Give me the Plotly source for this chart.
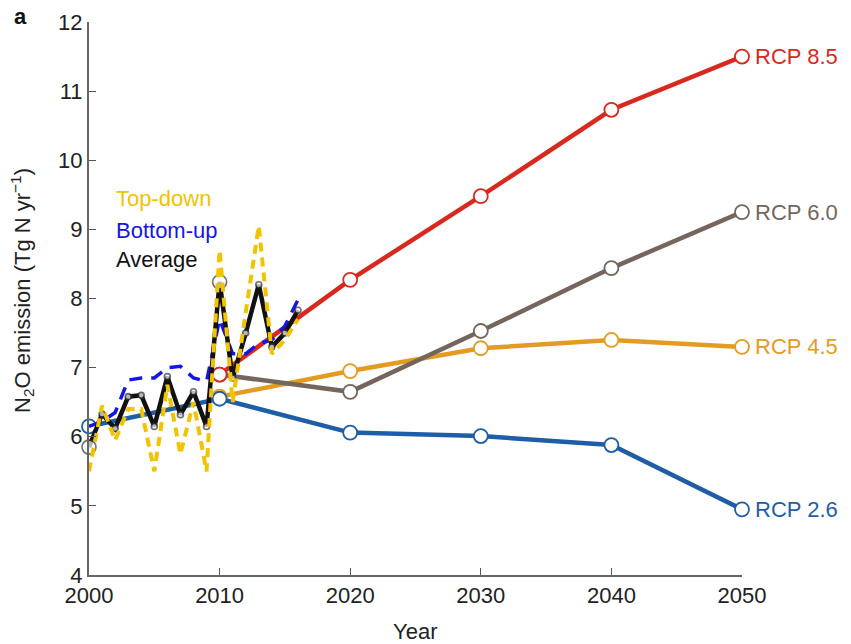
import plotly.graph_objects as go

hist_years = list(range(2000, 2017))
top_down = [5.5, 6.45, 5.95, 6.4, 6.4, 5.5, 6.75, 5.75, 6.5, 5.5, 8.7, 6.5, 7.8, 9.05, 7.2, 7.4, 7.7]
bottom_up = [6.15, 6.22, 6.35, 6.82, 6.85, 6.85, 7.0, 7.02, 6.85, 6.8, 7.7, 7.2, 7.2, 7.35, 7.4, 7.6, 7.98]
average = [5.85, 6.33, 6.12, 6.58, 6.6, 6.15, 6.87, 6.32, 6.65, 6.15, 8.24, 6.85, 7.5, 8.2, 7.3, 7.5, 7.83]

rcp_years = [2010, 2020, 2030, 2040, 2050]
rcp85 = [6.9, 8.27, 9.48, 10.73, 11.5]
rcp60 = [6.9, 6.65, 7.53, 8.44, 9.25]
rcp45 = [6.58, 6.95, 7.28, 7.4, 7.3]
rcp26_years = [2000, 2010, 2020, 2030, 2040, 2050]
rcp26 = [6.15, 6.55, 6.06, 6.01, 5.88, 4.95]

x_ticks = [2000, 2010, 2020, 2030, 2040, 2050]
y_ticks = [4, 5, 6, 7, 8, 9, 10, 11, 12]

c85 = "#D8291F"
c60 = "#74665C"
c45 = "#E49B22"
c26 = "#1E5EA8"
c_td = "#F2C300"
c_bu = "#1515E6"

FONT = "Liberation Sans, Arial, Helvetica, sans-serif"
fig = go.Figure()

def rcp(xs, ys, color, name):
    fig.add_trace(go.Scatter(
        x=xs, y=ys, mode="lines+markers", name=name,
        line=dict(color=color, width=4.5),
        marker=dict(size=14, color="white", line=dict(color=color, width=1.8)),
        cliponaxis=False, showlegend=False))

rcp(rcp_years, rcp45, c45, "RCP 4.5")
rcp(rcp_years, rcp60, c60, "RCP 6.0")
rcp(rcp26_years, rcp26, c26, "RCP 2.6")
rcp(rcp_years, rcp85, c85, "RCP 8.5")

fig.add_trace(go.Scatter(
    x=hist_years, y=bottom_up, mode="lines", line=dict(color=c_bu, width=3.5, dash="13px,9px"),
    showlegend=False, cliponaxis=False))

avg_sizes = [14 if y in (2000, 2010) else 6 for y in hist_years]
fig.add_trace(go.Scatter(
    x=hist_years, y=average, mode="lines+markers", line=dict(color="#111111", width=4.5),
    marker=dict(size=avg_sizes, color="white", line=dict(color="#333333", width=1.6)),
    showlegend=False, cliponaxis=False))

fig.add_trace(go.Scatter(
    x=hist_years, y=top_down, mode="lines", line=dict(color=c_td, width=4, dash="9px,6px"),
    showlegend=False, cliponaxis=False))

labels = [("RCP 8.5", rcp85[-1], c85), ("RCP 6.0", rcp60[-1], c60),
          ("RCP 4.5", rcp45[-1], c45), ("RCP 2.6", rcp26[-1], c26)]
for text, yv, col in labels:
    fig.add_annotation(x=2050, y=yv, text=text, showarrow=False, xanchor="left",
                       xshift=11, font=dict(size=22, color=col, family=FONT))

for text, yv, col in [("Top-down", 9.45, c_td), ("Bottom-up", 8.99, c_bu), ("Average", 8.56, "#111111")]:
    fig.add_annotation(x=0.038, y=yv, xref="paper", yref="y", text=text,
                       showarrow=False, xanchor="left", font=dict(size=22, color=col, family=FONT))

fig.add_annotation(x=-0.118, y=1.01, xref="paper", yref="paper", text="<b>a</b>",
                   showarrow=False, xanchor="left", yanchor="middle", font=dict(size=22, color="#111", family=FONT))

fig.add_annotation(x=-0.103, y=0.515, xref="paper", yref="paper", textangle=-90,
                   text="N<sub>2</sub>O emission (Tg N yr<sup>−1</sup>)", showarrow=False,
                   xanchor="center", yanchor="middle", font=dict(size=22, color="#222", family=FONT))
fig.add_annotation(x=0.499, y=-0.103, xref="paper", yref="paper", text="Year", showarrow=False,
                   xanchor="center", yanchor="middle", font=dict(size=22, color="#222", family=FONT))

fig.update_layout(
    width=851, height=644,
    margin=dict(l=81, r=117, t=14, b=77),
    paper_bgcolor="white", plot_bgcolor="white",
    font=dict(family=FONT, size=22, color="#222222"),
    xaxis=dict(range=[2000, 2050], tickvals=x_ticks, ticks="inside", ticklen=7, tickcolor="#555",
               showline=True, linecolor="#666666", linewidth=2, showgrid=False, zeroline=False,
               automargin=False, tickfont=dict(size=22)),
    yaxis=dict(range=[4, 12], tickvals=y_ticks, ticks="inside", ticklen=7, tickcolor="#555",
               showline=True, linecolor="#666666", linewidth=2, showgrid=False, zeroline=False,
               automargin=False, tickfont=dict(size=22)),
)

fig.write_html("out.html")
